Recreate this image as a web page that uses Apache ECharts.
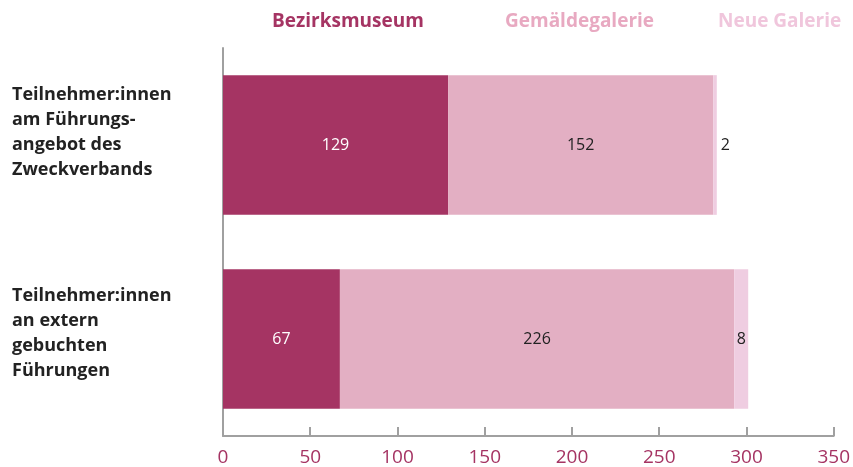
<!DOCTYPE html>
<html>
<head>
<meta charset="utf-8">
<script src="https://cdn.jsdelivr.net/npm/echarts@6/dist/echarts.min.js"></script>
<style>html,body{margin:0;padding:0;background:#fff}#c{width:853px;height:467px}</style>
</head>
<body>
<div id="c"></div>
<script>
const categories = ["Teilnehmer:innen\nam Führungs-\nangebot des\nZweckverbands", "Teilnehmer:innen\nan extern\ngebuchten\nFührungen"];
const seriesNames = ["Bezirksmuseum", "Gemäldegalerie", "Neue Galerie"];
const bezirksmuseum = [129, 67];
const gemaeldegalerie = [152, 226];
const neueGalerie = [2, 8];
const xTicks = [0, 50, 100, 150, 200, 250, 300, 350];

const colors = ["#a53463", "#e3afc3", "#efcde1"];
const legendColors = ["#a53463", "#e8a9c1", "#f0c6dc"];
const legendLeft = [272, 505, 718];
const labelColors = ["#ffffff", "#222222", "#222222"];
const values = [bezirksmuseum, gemaeldegalerie, neueGalerie];
const font = "'Open Sans', 'Noto Sans', sans-serif";

const chart = echarts.init(document.getElementById('c'));
chart.setOption({
  animation: false,
  textStyle: { fontFamily: font },
  legend: seriesNames.map((n, i) => ({
    top: 12, left: legendLeft[i], padding: 0, itemWidth: 0, itemHeight: 0, itemGap: 0, icon: 'none',
    selectedMode: false,
    data: [{ name: n, textStyle: { color: legendColors[i], fontSize: 19, fontWeight: 'bold', fontFamily: font, padding: [0, 0, 0, -5] } }]
  })),
  grid: { left: 223, right: 18, top: 48, bottom: 30, containLabel: false },
  xAxis: {
    type: 'value', min: xTicks[0], max: xTicks[xTicks.length - 1], interval: 50,
    axisLine: { show: true, lineStyle: { color: '#a0a0a0', width: 2 } },
    axisTick: { show: true, inside: true, length: 9, lineStyle: { color: '#a0a0a0', width: 2 } },
    splitLine: { show: false },
    axisLabel: { color: '#a53463', fontSize: 19, margin: 12, fontFamily: font }
  },
  yAxis: {
    type: 'category', inverse: true, data: categories,
    axisLine: { show: true, lineStyle: { color: '#a0a0a0', width: 2 } },
    axisTick: { show: false },
    axisLabel: {
      align: 'left', margin: 211,
      formatter: (v, i) => v.split('\n').map(l => '{t|' + l + '}').join('\n') + '\n{s' + i + '| }',
      rich: {
        t: { fontSize: 18, fontWeight: 'bold', color: '#222', lineHeight: 25, fontFamily: font },
        s0: { fontSize: 10, lineHeight: 25 },
        s1: { fontSize: 10, lineHeight: 12 }
      }
    }
  },
  series: seriesNames.map((n, i) => ({
    name: n, type: 'bar', stack: 'total', barWidth: '72%',
    itemStyle: { color: colors[i] },
    label: { show: true, color: labelColors[i], fontSize: 16, fontFamily: font },
    data: values[i].map(v => ({
      value: v,
      label: v < 5 ? { position: 'right', distance: 4 } : { position: 'inside' }
    }))
  }))
});
</script>
</body>
</html>
